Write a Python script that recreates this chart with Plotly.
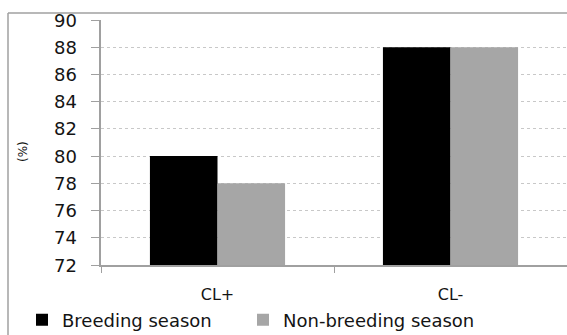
import plotly.graph_objects as go

categories = ["CL+", "CL-"]
breeding = [80, 88]
non_breeding = [78, 88]
series_names = ["Breeding season", "Non-breeding season"]
y_ticks = [72, 74, 76, 78, 80, 82, 84, 86, 88, 90]

W, H = 567, 335
L, R, T, B = 101, 0, 20, 70
pw, ph = W - L - R, H - T - B

FONT = "DejaVu Sans, Verdana, sans-serif"
TXT = "#141414"
AX = "#a0a0a0"

fig = go.Figure()
fig.add_trace(go.Bar(x=categories, y=breeding, name=series_names[0], legend="legend",
                     marker=dict(color="#000000", line=dict(width=0))))
fig.add_trace(go.Bar(x=categories, y=non_breeding, name=series_names[1], legend="legend2",
                     marker=dict(color="#a6a6a6", line=dict(width=0))))

def px_x(p):
    return (p - L) / pw

def px_y(p):
    return (H - B - p) / ph

# outer chart frame
fig.add_shape(type="line", xref="paper", yref="paper",
              x0=px_x(8), x1=px_x(8), y0=px_y(13), y1=px_y(340),
              line=dict(color=AX, width=1.5))
fig.add_shape(type="line", xref="paper", yref="paper",
              x0=px_x(8), x1=px_x(580), y0=px_y(13), y1=px_y(13),
              line=dict(color=AX, width=1.5))

# y tick labels placed on the y scale, a little further from the axis
for v in y_ticks:
    fig.add_annotation(text=str(v), xref="paper", yref="y", x=px_x(79), y=v,
                       xanchor="right", yanchor="middle", showarrow=False,
                       font=dict(family=FONT, size=18, color=TXT))

fig.add_annotation(text="(%)", xref="paper", yref="paper", x=px_x(23), y=px_y(152),
                   showarrow=False, textangle=-90, xanchor="center", yanchor="middle",
                   font=dict(family=FONT, size=12, color=TXT))

leg_common = dict(orientation="h", xref="container", yref="container",
                  xanchor="left", y=(H - 320) / H, yanchor="middle",
                  font=dict(family=FONT, size=18, color=TXT), itemwidth=30,
                  bgcolor="rgba(0,0,0,0)", borderwidth=0)

fig.update_layout(
    width=W, height=H,
    margin=dict(l=L, r=R, t=T, b=B, pad=0, autoexpand=False),
    paper_bgcolor="white", plot_bgcolor="white",
    barmode="group", bargap=0.42, bargroupgap=0,
    font=dict(family=FONT, size=16, color=TXT),
    showlegend=True,
    legend=dict(x=22 / W, **leg_common),
    legend2=dict(x=243 / W, **leg_common),
    xaxis=dict(showline=True, linecolor=AX, linewidth=1.5, automargin=False,
               ticks="outside", tickson="boundaries", ticklen=6, tickcolor=AX,
               showgrid=False, tickfont=dict(family=FONT, size=16, color=TXT),
               ticklabelstandoff=14),
    yaxis=dict(range=[72, 90], tickvals=y_ticks, showline=True, linecolor=AX,
               linewidth=1.5, ticks="outside", ticklen=8, tickcolor=AX,
               automargin=False, showticklabels=False,
               showgrid=True, gridcolor="#c8c8c8", griddash="dot", gridwidth=1,
               zeroline=False),
)

fig.write_html("out.html", config={"displayModeBar": False}, post_script=(
    "document.body.style.margin='0';document.body.style.padding='0';"
    "document.documentElement.style.overflow='hidden';"
))
